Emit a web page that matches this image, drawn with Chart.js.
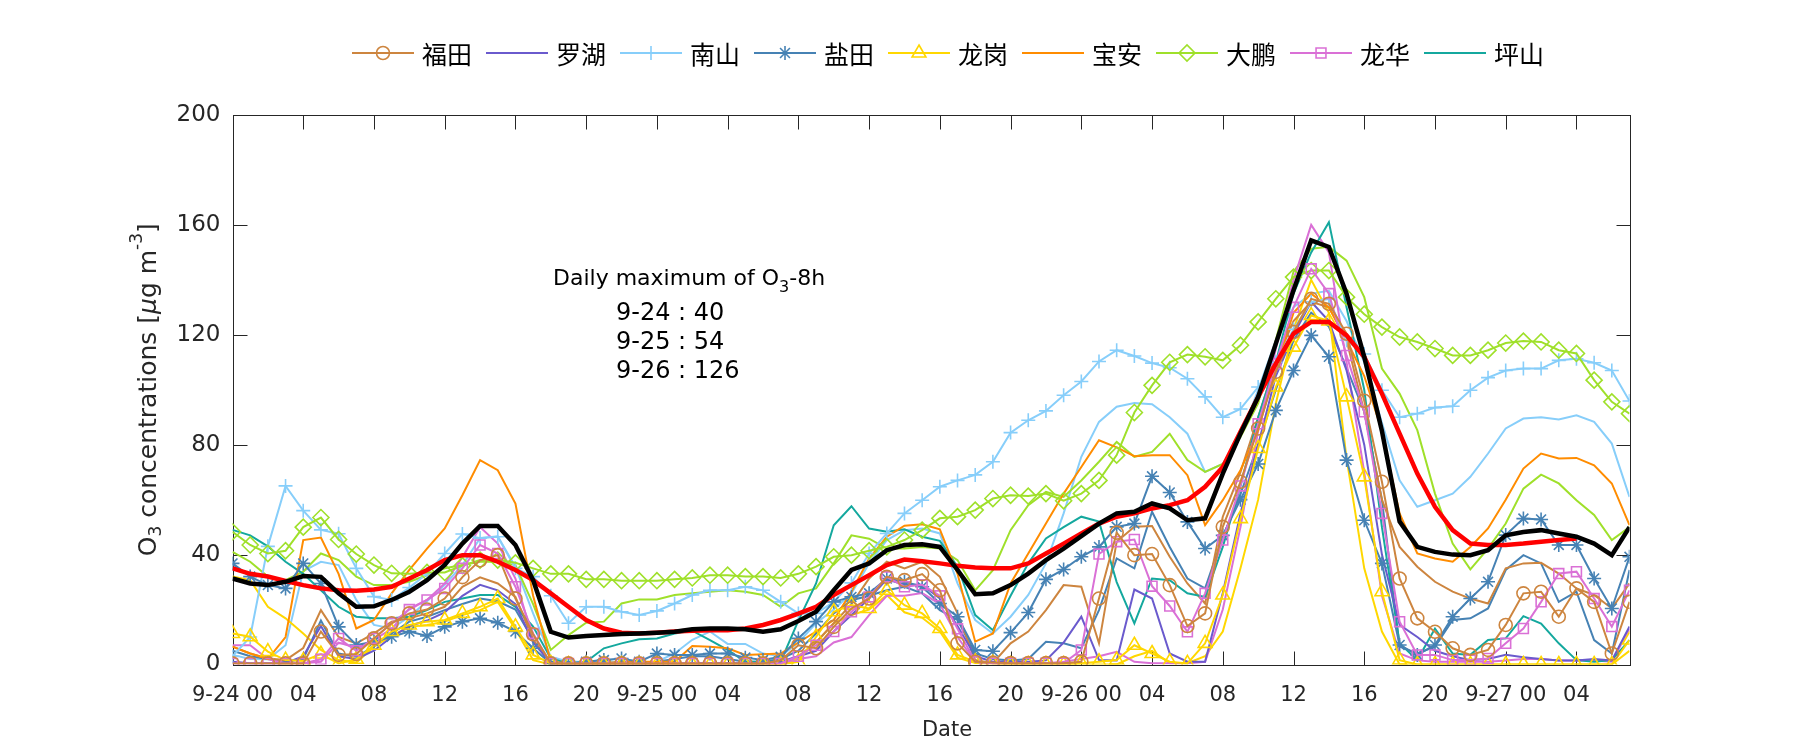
<!DOCTYPE html>
<html><head><meta charset="utf-8">
<script src="https://cdn.jsdelivr.net/npm/chart.js@4.4.0/dist/chart.umd.min.js"></script>
<style>html,body{margin:0;padding:0;background:#fff;}#wrap{width:1800px;height:750px;}</style>
</head><body><div id="wrap"><canvas id="c" width="1800" height="750"></canvas></div>
<script>
// ---- data (hourly, 9-24 00:00 .. 9-27 07:00) ----
const tickLabels = ['9-24 00','04','08','12','16','20','9-25 00','04','08','12','16','20','9-26 00','04','08','12','16','20','9-27 00','04'];
const yTickValues = [0,40,80,120,160,200];
const stationNames = ['福田','罗湖','南山','盐田','龙岗','宝安','大鹏','龙华','坪山'];
const dailyMax = [['9-24',40],['9-25',54],['9-26',126]];

const meanAll = [31.3,29.5,28.9,30.1,32.2,31.9,25.9,21,21.2,23.5,26.5,30.7,36.2,44,50.4,50.4,43.5,30.7,11.9,9.8,10.4,10.7,11.1,11.3,11.6,11.9,12.8,13.1,13.1,12.8,11.9,12.8,15.8,19.2,27,34.4,36.8,41.6,43.5,43.8,42.8,34.4,25.6,25.9,28.9,33.1,38,42.2,46.7,51.3,55,55.6,58.6,56.8,52.5,53.2,69.5,84,97.4,116.8,136.2,154.4,152,135,112,85,52,42.8,41,40,39.8,41.6,47,48.2,48.9,47.7,46.5,44,39.8,50];
const mean8h = [35,33,32,30.4,28.9,27.7,27,26.8,27.3,28.3,31.3,34.4,38,39.8,39.8,37.4,34.4,30.7,25.9,21,16.2,13.1,11.6,11.3,11.6,12,12.3,12.5,12.5,13.1,14.4,16.2,18.5,21,25.3,28.9,32.5,36.2,38.2,37.6,36.8,35.9,35.3,35,35,36.8,40.4,44,47.7,51.3,53.8,55,56.8,58,59.8,64.7,71.9,84.7,97.4,109.5,120.4,124.7,124.7,119.8,111.9,98.6,84,69.5,57.4,48.9,44,43.5,43.5,44,44.7,45.3,45.9,null,null,null];

const futian = [0.4,0.4,0.4,0.4,0.4,12,3.5,3.8,9.5,15,18.6,20,24,31.8,37.9,39.8,24,11,0.4,0.4,0.4,0.4,0.4,0.4,0.4,0.4,0.4,0.4,0.4,0.4,0.4,1.5,7,5.9,13.7,20.4,24,31.9,30.7,32.9,27,7.7,1,0.7,0.5,0.5,0.5,0.5,1,24,48,39.8,40.2,28.9,14,18.6,50.1,66.5,85.9,106.5,121,133.1,131.3,120.4,96,66.5,31.3,16.8,11.9,5.9,3.5,5.3,14.4,25.9,26.5,17.4,27.7,22.8,4,22.8];
const futianB = [6.5,4,2.2,1.6,6,19.8,10,7.7,11.3,15.6,16.8,18.6,21,28.3,31.7,29.5,24.6,9,0.4,0.4,0.4,0.4,0.4,0.4,0.4,0.4,0.4,0.4,0.4,0.4,0.4,0.5,3,8,15,22,31.3,37.4,35,37.4,31.9,18.6,1.6,0.5,7.7,12,19.8,28.9,28.3,7.7,44.7,50.1,50.4,39.2,29.5,22.2,53.8,70,90,110,125,132,130,118,92,60,42.8,35.6,30.1,26.5,24,22.2,35,36.8,37,33.1,27.7,25.3,20.4,29.5];
const luohu = [1,0.5,0.5,0.5,3,14,3,2,5,10,14,16,19,25,29,27,22,8,0.5,0.3,0.3,0.3,0.3,0.3,0.3,0.3,0.5,0.5,0.5,0.5,0.5,1,3,5,12,18,24,31,29,29,24,14,3,1,1,1,1.5,8,17.4,1.6,1.5,27.3,24,4,1,1,26,55,80,105,120,132,125,107,80,40,14.4,10,5,3,1.6,2,3.5,2.6,2,1.5,1.5,2,1.5,13.8];
const nanshan = [3,10,43,65,56,49,47.6,35,24.7,23.5,28,33,40.4,47.5,46,46.5,35,32,25,15,21,21,19.2,18,19.5,22.2,25.3,27,27,28.3,27,22.8,18.6,18.6,22.8,29.7,40.4,47.7,55,59.8,64.7,67,69,73.8,84.4,88.9,92.3,98,103,110.3,114.4,112.3,109.7,108,104,97.4,90,93,101,110,122,132,133,118,113,99.8,90,91.3,93.5,94,99.8,104.4,107,107.7,107.7,110.7,111.3,109.8,107,95.9];
const nanshanB = [3.5,2,1.9,7,34,37.4,36.2,23.5,14.4,13.1,17.4,23,29,36.2,46,46.7,35.5,18.6,2.8,1,1,1.6,0.5,0.5,1,4,9,12,7.5,7.5,4,3,8,15,20,25.9,36.8,45.3,48.9,49.5,47.7,29.5,16.2,11.3,17.4,25.3,36.8,55,75.6,88.3,93.8,95.2,94.7,90,84,70.1,73,82.8,100,118,130,135,136,125,110,88,67,57.4,59.8,62.2,68.3,76.8,85.9,89.5,90,89.2,90.7,88.3,80.4,61];
const yantian = [36.8,32,28.9,27.7,36.8,29.5,13.7,7.1,8.3,10.1,12,10.4,13.7,15.6,16.8,15.2,12,5.9,0.4,0.4,1,1.6,2.2,1,4,3.5,3.5,4,4,2.5,1.6,2.8,9.5,15.6,22.8,24.6,25.9,31.3,30.1,28.3,22.2,17.4,5.3,4.8,11.6,18.9,31,34.6,39.2,42.8,50.1,51.3,68.5,62.6,51.9,42.2,47,60,73,92.5,107,119.8,112,74.4,52.5,36.8,7.1,3.5,7.1,17.4,24,30.1,47.1,53.1,52.8,43.5,43.5,31.3,20.4,39.2];
const yantianB = [5,3,2,1,2,16,4,2.8,6.5,11.3,15.6,17.4,19.8,22,24,23,20,8.9,0.4,0.4,0.4,0.4,0.5,0.5,1,2,3,3,2,1,1,2,5,11.3,18.6,23.4,25,27,28.3,25.9,19.8,16.2,4,2,1.5,2,8.3,7.7,5.9,19.8,38.6,35,55.6,42.8,31.3,27.7,46.5,62,80,100,118,128,123,108,92,60,6.5,4,6.5,16.2,16.8,20.4,34.4,39.8,36.8,22.8,26.5,8.9,4,34.4];
const longgang = [11.3,10.1,4.7,1.6,1.3,3.8,0.4,1.9,7,12,14.4,15.6,16.2,18.6,21,24,13.7,3.5,0.4,0,0,0,0,0,0,0,0,0,0,0,0,0,1,10,19.2,21.6,20.4,27,21.6,18.6,13.1,3.5,1,0.5,0,0,0,0,0.5,1,1.6,7,4,1,0.4,7.7,25.3,53.1,78.6,101,115.5,127,125,97.4,68.3,26.5,1.6,0,0,0,0,0,0,0,0,0,0,0,0,8.9];
const longgangB = [32,30.7,21,16.8,11.3,5.3,1.6,0.7,6.5,10.4,13.7,14.4,15.6,18,19.8,22.8,12.8,1.6,0,0,0,0,0,0,0,0,0,0,0,0,0,0,2,8,15,18,20,25.3,19,17,12,2.5,0.5,0.3,0,0,0,0,0,0,0,3,5,0.5,0.5,3,12,35,60,95,122,140,128,75,35,12,0,0,0,0,0,0,0,0,0,0,0,0,0,5];
const baoan = [6.5,4,2,10,45.3,46.2,33,13.1,16.2,25.9,34.4,42.2,49.5,61.6,74.4,70.7,58.6,25,1,0.5,0.5,0.5,1,1,1,1,6.7,6.5,5.9,3.5,3.7,4,8,12,16.2,26.5,38.6,46.5,50.5,51,49.2,33,8.3,11.3,29.5,40.4,51.3,62.2,71.9,81.6,79,75.8,76.2,76.2,68.9,50.7,59.8,70.7,85.2,108,128,135,130,118,105,85,55,40.4,38.6,37.4,42.8,49.5,60,71.3,76.8,75,75.2,72.5,65.9,50.7];
const dapeng = [48.3,43.5,40.4,41.4,50,53.5,45.5,40.2,36.2,33.2,33,33.5,33.5,36,38,38,37,35,33,33,31,31,30.5,30.5,30.5,31,31.5,32.5,32.5,32,32,31.5,33,35.6,39.2,39.8,41.4,42.8,45.3,48.9,53.2,53.8,56.2,60.4,61.6,61.3,62.2,59.6,62.2,67,76.2,91.7,101.6,110,112.8,112,110.7,116.2,124.7,133.1,141,143.4,143.4,133.7,127.5,122.8,119.2,117.4,115,112.5,112.5,114.4,117,117.7,117.4,114.4,113.2,103.5,95.6,91.3];
const dapengB = [41,37.4,32,30.7,33.8,40.4,38,32,28.9,28.9,30.1,32.5,35,36.2,37.4,37.4,36.2,22,5.3,10.7,15.2,15.6,22.2,23.7,23.7,25.3,25.9,26.5,27,26.5,25.3,21,25.9,27.7,36.8,47,45.8,42.2,42.2,42.8,42.2,38,27,34.3,48.9,58,62.8,61,67,73.8,81,75.6,77.4,84,74.4,70.1,73,82.8,95,118,143,151.3,152,147,133.7,107.7,98.6,85.3,62.2,44,34.6,42.2,51.3,64,69.1,65.9,59.8,54.4,45.3,50];
const longhua = [0.4,0.4,0.4,0.4,0.4,1.9,9.5,5,9.5,15,20,23.5,27.7,35,43.5,40.4,28.3,11.3,0.4,0.4,0.4,0.4,0.4,0.4,0.4,0.4,0.4,0.4,0.4,0.4,0.4,0.4,3,7,12,19.2,24.6,31.9,28.3,29,25,13,1,0.5,0.5,0.5,0.5,0.5,5.3,40.2,44.7,45.5,28.5,21.3,11.9,25.9,45.3,65,87.6,109.5,130,144,135,112.5,92,55,15.6,3.5,3.5,1.6,1.6,2.2,7.7,13.1,22.8,33.1,33.8,24,13.8,27];
const longhuaB = [7,7,2,0.5,0.5,1,8,6,9,13,20.4,23.5,29.5,39,50,44,31.3,9,0.4,0.4,0.4,0.4,0.4,0.4,0.4,0.4,0.4,0.4,0.4,0.4,0.4,0.4,2,3,8,10,18,25,25,26,22,10,1,0.5,0.5,0.5,0.5,1,2,3,4.6,1,0.5,0.5,0.5,1,20,50,85,115,140,160,150,110,70,25,4,1.5,1,1,1,1,1.5,2,2,1.5,1.5,1.5,1,13];
const pingshan = [49,47,43,37.4,33,27,21,17.4,16.8,16.8,17.4,19.8,22.8,24,25.3,25.3,21,13.8,2.2,0.4,1,5.9,7.7,9.2,9.5,11.3,12.3,8.9,5.3,1,1,1,16,29.5,50.7,57.6,49.5,48.3,49.2,46.5,45,35.6,18,12.5,25,36.8,45.9,50,53.8,52,30,15,31.3,30.7,25.9,24.6,42.8,65,90,110,135,150,161,130,100,50,7.7,1.6,13.1,4,3.5,8.9,9.5,17.6,14.9,7.7,1.6,1,1.6,8.9];

const hourIndex = meanAll.map((_, i) => i);

// ---- styles ----
const C = {futian:'#CD853F', luohu:'#6A5ACD', nanshan:'#87CEFA', yantian:'#4682B4', longgang:'#FFD700', baoan:'#FF8C00', dapeng:'#9FE02A', longhua:'#DA70D6', pingshan:'#14A89E'};
const FONT = "'DejaVu Sans', sans-serif";

function ds(label, data, color, style, radius, width) {
  return {label, data, borderColor: color, backgroundColor: 'rgba(0,0,0,0)',
    borderWidth: width || 2, pointStyle: style || false, pointRadius: style ? radius : 0,
    pointBorderColor: color, pointBackgroundColor: 'rgba(0,0,0,0)', pointBorderWidth: 1.6,
    pointHoverRadius: 0, tension: 0, spanGaps: false, fill: false};
}
const datasets = [
  ds('mean', meanAll, '#000000', null, 0, 4.5),
  ds('8h', mean8h, '#FF0000', null, 0, 4.5),
  ds('福田', futian, C.futian, 'circle', 6.5),
  ds('龙华', longhua, C.longhua, 'rect', 7),
  ds('大鹏', dapeng, C.dapeng, 'rectRot', 8),
  ds('龙岗', longgang, C.longgang, 'triangle', 8),
  ds('盐田', yantian, C.yantian, 'star', 7),
  ds('南山', nanshan, C.nanshan, 'cross', 7),
  ds('宝安', baoan, C.baoan),
  ds('罗湖', luohu, C.luohu),
  ds('坪山', pingshan, C.pingshan),
  ds('福田b', futianB, C.futian),
  ds('龙华b', longhuaB, C.longhua),
  ds('大鹏b', dapengB, C.dapeng),
  ds('龙岗b', longgangB, C.longgang),
  ds('盐田b', yantianB, C.yantian),
  ds('南山b', nanshanB, C.nanshan),
];
const legendStyle = {'福田':['circle',6.5],'罗湖':[null],'南山':['cross',7],'盐田':['star',7],'龙岗':['triangle',8],'宝安':[null],'大鹏':['rectRot',8],'龙华':['rect',7],'坪山':[null]};
const legendColor = {'福田':C.futian,'罗湖':C.luohu,'南山':C.nanshan,'盐田':C.yantian,'龙岗':C.longgang,'宝安':C.baoan,'大鹏':C.dapeng,'龙华':C.longhua,'坪山':C.pingshan};

const axesPlugin = {
  id: 'matlabAxes',
  beforeDatasetsDraw(chart) {
    const {ctx, chartArea: a, scales: {x, y}} = chart;
    ctx.save();
    ctx.strokeStyle = '#262626'; ctx.lineWidth = 1;
    const L = Math.round(a.left)+0.5, R = Math.round(a.right)+0.5, T = Math.round(a.top)+0.5, B = Math.round(a.bottom)+0.5;
    ctx.strokeRect(L, T, R-L, B-T);
    const tl = 14;
    ctx.beginPath();
    tickLabels.forEach((_, i) => { const px = Math.round(x.getPixelForValue(i*4))+0.5; ctx.moveTo(px,B); ctx.lineTo(px,B-tl); ctx.moveTo(px,T); ctx.lineTo(px,T+tl); });
    yTickValues.forEach(v => { const py = Math.round(y.getPixelForValue(v))+0.5; ctx.moveTo(L,py); ctx.lineTo(L+tl,py); ctx.moveTo(R,py); ctx.lineTo(R-tl,py); });
    ctx.stroke();
    ctx.restore();
  },
  afterDraw(chart) {
    const {ctx, chartArea: a} = chart;
    ctx.save();
    ctx.fillStyle = '#262626';
    // y title
    ctx.translate(149, (a.top+a.bottom)/2);
    ctx.rotate(-Math.PI/2);
    const parts = [['O','25px '+FONT,0],['3','17px '+FONT,8],[' concentrations [','25px '+FONT,0],['\u03BC','italic 25px '+FONT,0],['g m','25px '+FONT,0],['-3','17px '+FONT,-11],[']','25px '+FONT,0]];
    let tw = 0; parts.forEach(p => { ctx.font = p[1]; tw += ctx.measureText(p[0]).width; });
    let cx = -tw/2; ctx.textBaseline = 'middle';
    parts.forEach(p => { ctx.font = p[1]; ctx.fillText(p[0], cx, p[2]); cx += ctx.measureText(p[0]).width; });
    ctx.restore();
    // x title
    ctx.save();
    ctx.fillStyle = '#262626'; ctx.font = '21px '+FONT; ctx.textAlign = 'center'; ctx.textBaseline = 'middle';
    ctx.fillText('Date', 947, 731);
    // annotation
    ctx.font = '22px '+FONT; ctx.textAlign = 'left'; ctx.textBaseline = 'alphabetic'; ctx.fillStyle = '#000';
    let ax = 553; const t1 = 'Daily maximum of O';
    ctx.fillText(t1, ax, 285); ax += ctx.measureText(t1).width;
    ctx.font = '16px '+FONT; ctx.fillText('3', ax, 292); ax += ctx.measureText('3').width;
    ctx.font = '22px '+FONT; ctx.fillText('-8h', ax, 285);
    ctx.font = '24px '+FONT;
    dailyMax.forEach((d, i) => { ctx.fillText(d[0]+' : '+d[1], 616, 320 + i*29); });
    // legend
    const x0 = 352, step = 134, ly = 53, lineLen = 62;
    ctx.textBaseline = 'middle';
    stationNames.forEach((n, i) => {
      const sx = x0 + i*step, col = legendColor[n];
      ctx.strokeStyle = col; ctx.lineWidth = 2;
      ctx.beginPath(); ctx.moveTo(sx, ly); ctx.lineTo(sx+lineLen, ly); ctx.stroke();
      const st = legendStyle[n];
      if (st[0]) {
        ctx.fillStyle = 'rgba(0,0,0,0)'; ctx.lineWidth = 1.6;
        Chart.helpers.drawPoint(ctx, {pointStyle: st[0], radius: st[1], borderWidth: 1.6, rotation: 0}, sx+lineLen/2, ly);
      }
      ctx.fillStyle = '#000'; ctx.font = "25px 'Noto Sans CJK SC', sans-serif";
      ctx.fillText(n, sx+lineLen+8, ly+1);
    });
    ctx.restore();
  }
};

new Chart(document.getElementById('c'), {
  type: 'line',
  data: {labels: hourIndex, datasets},
  options: {
    responsive: false, animation: false, events: [],
    layout: {padding: {left: 0, top: 115, right: 170.5, bottom: 0}},
    plugins: {legend: {display: false}, tooltip: {enabled: false}},
    scales: {
      x: {type: 'linear', min: 0, max: 79,
        afterFit(s) { s.height = 85.5; },
        grid: {display: false}, border: {display: false},
        ticks: {stepSize: 4, autoSkip: false, includeBounds: false, maxRotation: 0, padding: 10,
          color: '#262626', font: {family: FONT, size: 21},
          callback: v => tickLabels[Math.round(v/4)]}},
      y: {min: 0, max: 200,
        afterFit(s) { s.width = 232.5; },
        grid: {display: false}, border: {display: false},
        ticks: {stepSize: 40, padding: 4, color: '#262626', font: {family: FONT, size: 23}}}
    }
  },
  plugins: [axesPlugin]
});
</script></body></html>
